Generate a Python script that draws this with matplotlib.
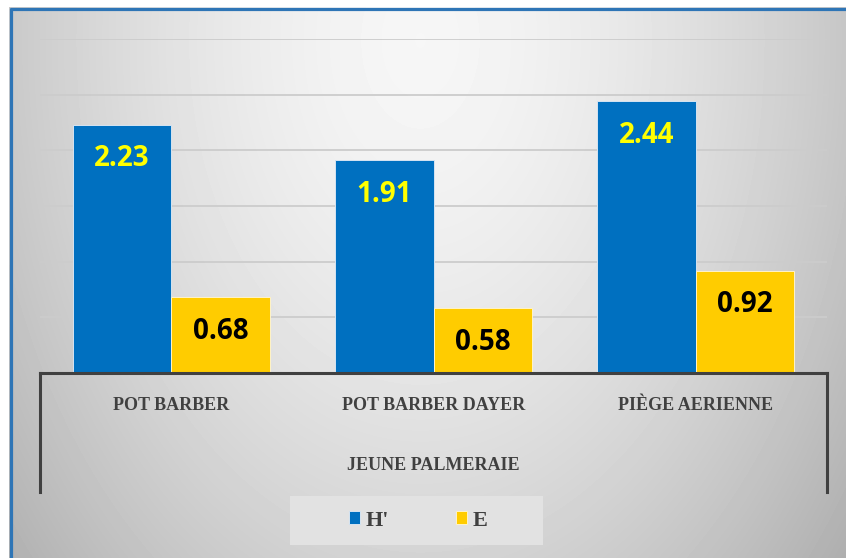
import numpy as np
import matplotlib
matplotlib.use('Agg')
import matplotlib.pyplot as plt
import matplotlib.transforms as mtransforms
from matplotlib.patches import Rectangle

# données
categories = ['POT BARBER', 'POT BARBER DAYER', 'PIÈGE AERIENNE']
group_label = 'JEUNE PALMERAIE'
series_names = ["H'", 'E']
h_values = [2.23, 1.91, 2.44]
e_values = [0.68, 0.58, 0.92]

W, H = 846, 558
fig = plt.figure(figsize=(W / 100, H / 100), dpi=100)
fig.patch.set_facecolor('white')

# fond en dégradé + cadre bleu (coordonnées en pixels)
bg = fig.add_axes([0, 0, 1, 1], zorder=-10)
yy, xx = np.mgrid[0:H, 0:W]
r = np.sqrt(((xx - 420) / 430.) ** 2 + ((yy - 40) / 640.) ** 2)
shade = 0.965 - 0.19 * np.clip(r, 0, 1.3) ** 1.6
bg.imshow(shade[7:, 9:], cmap='gray', vmin=0, vmax=1, extent=(9, W, H, 7),
          aspect='auto', interpolation='bilinear')
bg.set_xlim(0, W)
bg.set_ylim(H, 0)
bg.axis('off')
bg.plot([10, W], [8.5, 8.5], color='#2E75B6', lw=2.3, solid_capstyle='butt')
bg.plot([10.5, 10.5], [8, H], color='#2E75B6', lw=2.3, solid_capstyle='butt')
bg.add_patch(Rectangle((290, 496), 253, 49, facecolor='#e2e2e2', edgecolor='none'))

ax = fig.add_axes([40 / W, 1 - 373 / H, 787 / W, 334 / H])
ax.set_facecolor('none')

x = np.arange(len(categories))
w = 0.375
b1 = ax.bar(x - w / 2, h_values, w, color='#0070C0', edgecolor='#d6e4f2', lw=0.7, zorder=3)
b2 = ax.bar(x + w / 2, e_values, w, color='#FFCC00', edgecolor='#fff3c8', lw=0.7, zorder=3)

ax.set_xlim(-0.5, 2.5)
ax.set_ylim(0, 3.0)
ax.set_yticks(np.arange(0.5, 3.01, 0.5))
ax.yaxis.grid(True, color='#cccccc', lw=1.3)
ax.set_axisbelow(True)
ax.tick_params(left=False, labelleft=False, bottom=False, labelbottom=False)
for s in ['top', 'left', 'right']:
    ax.spines[s].set_visible(False)
ax.spines['bottom'].set_color('#404040')
ax.spines['bottom'].set_linewidth(2.2)
ax.spines['bottom'].set_zorder(4)

# étiquettes de valeurs
num_font = ['Open Sans', 'DejaVu Sans']
for bars, vals, col in [(b1, h_values, '#FFFF00'), (b2, e_values, 'black')]:
    for rect, v in zip(bars, vals):
        ax.annotate('%.2f' % v, (rect.get_x() + rect.get_width() / 2, v),
                    xytext=(0, -24.5), textcoords='offset points',
                    ha='center', va='center', color=col,
                    fontsize=20, fontweight='bold', family=num_font, zorder=5)

# axe des catégories (multi-niveau)
trans = mtransforms.blended_transform_factory(ax.transData, ax.transAxes)
for xi, cat in zip(x, categories):
    ax.text(xi, -33 / 334, cat, transform=trans, ha='center', va='center',
            family='Liberation Serif', fontweight='bold', fontsize=13, color='#404040')
ax.text(1, -93 / 334, group_label, transform=trans, ha='center', va='center',
        family='Liberation Serif', fontweight='bold', fontsize=13, color='#404040')
for xa in [0, 1]:
    ax.plot([xa, xa], [0, -119 / 334], transform=ax.transAxes, clip_on=False,
            color='#404040', lw=2.2, solid_capstyle='projecting')

fig.legend([b1, b2], series_names, loc='center',
           bbox_to_anchor=(418 / W, 1 - 520.5 / H), ncol=2, frameon=False,
           prop=dict(family='Liberation Serif', weight='bold', size=16),
           handlelength=0.5, handleheight=0.5, handletextpad=0.25,
           columnspacing=3.0, labelcolor='#404040')

fig.savefig('out.png', dpi=100)
